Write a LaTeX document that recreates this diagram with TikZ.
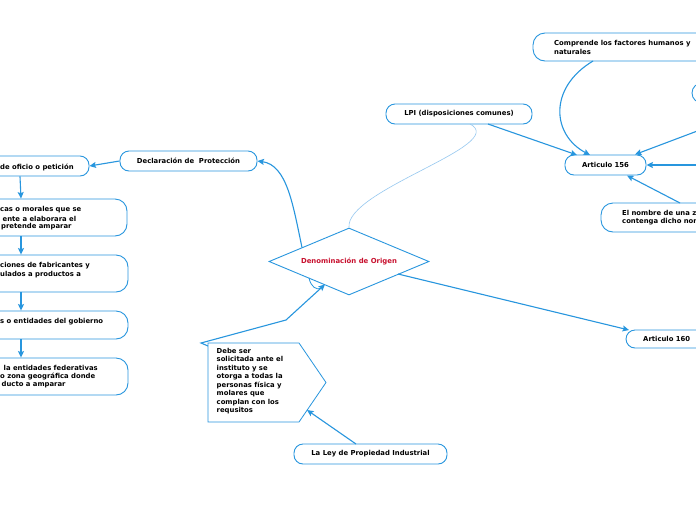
\documentclass[tikz,border=0pt]{standalone}
\usepackage{fontspec}
\setmainfont{DejaVu Sans}
\usetikzlibrary{arrows.meta,shapes.geometric}
\definecolor{lb}{RGB}{40,150,222}
\definecolor{lbl}{RGB}{150,200,240}
\definecolor{dred}{RGB}{200,16,46}
\tikzset{
 box/.style={draw=lb, line width=0.9pt, rounded corners=9pt, fill=white, inner sep=0pt},
 tbox/.style={box, rounded corners=12pt},
 txt/.style={font=\bfseries\fontsize{6.85}{8.6}\selectfont, text=black, inner sep=0pt, align=left},
 conn/.style={draw=lb, line width=1.1pt, -{Stealth[length=6.5pt,width=6pt,inset=1.2pt]}},
 soft/.style={draw=lbl, line width=0.6pt},
}
\begin{document}
\begin{tikzpicture}[x=1pt,y=-1pt]
\path[use as bounding box] (0,0) rectangle (696,520);
\clip (0,0) rectangle (696,520);
\fill[white] (0,0) rectangle (696,520);

% ---- left column
\node[box, minimum width=137pt, minimum height=20pt] (decl) at (188.5,161) {};
\node[txt] at (decl.center) {Declaración de\ \ Protección};
\node[box, minimum width=138pt, minimum height=20pt] (b1) at (20,166) {};
\node[txt, anchor=west] (t1) at (0,167) {de oficio o petición};
\node[tbox, minimum width=212pt, minimum height=37pt] (b2) at (21,217.5) {};
\node[txt, anchor=west] (t2a) at (0,210) {cas o morales que se};
\node[txt, anchor=west] (t2b) at (2.5,218.5) {ente a elaborara el};
\node[txt, anchor=west] (t2c) at (1,227) {pretende amparar};
\node[tbox, minimum width=214pt, minimum height=37pt] (b3) at (21,273.5) {};
\node[txt, anchor=west] (t3a) at (0,266) {ciones de fabricantes y};
\node[txt, anchor=west] (t3b) at (0,274.5) {ulados a productos a};
\node[tbox, minimum width=214pt, minimum height=28pt] (b4) at (21,325) {};
\node[txt, anchor=west] (t4) at (0,322) {s o entidades del gobierno};
\node[tbox, minimum width=214pt, minimum height=37pt] (b5) at (21,376.5) {};
\node[txt, anchor=west] (t5a) at (3.5,368) {la entidades federativas};
\node[txt, anchor=west] (t5b) at (0,376.5) {o zona geográfica donde};
\node[txt, anchor=west] (t5c) at (1.5,385) {ducto a amparar};

% ---- centre
\node[diamond, draw=lb, line width=0.9pt, aspect=2.4, minimum width=160pt, minimum height=67pt, inner sep=0pt, fill=white,
  font=\bfseries\fontsize{6.9}{8}\selectfont, text=dred] (dn) at (349,261.5) {Denominación de Origen};
\coordinate (dA) at (302,247.5);
\coordinate (dBL) at (325,284.4);
\coordinate (dR) at (398,274);

% pentagon
\draw[draw=lb, line width=0.8pt, fill=white] (208,343) -- (299,343) -- (326,382.5) -- (299,422) -- (208,422) -- cycle;
\node[txt, anchor=north west, font=\bfseries\fontsize{6.85}{8.5}\selectfont] (pent) at (216.5,348) {Debe ser\\solicitada ante el\\instituto y se\\otorga a todas la\\personas física y\\molares que\\complan con los\\requsitos};
\coordinate (pTL) at (208,346);
\coordinate (k1) at (201,343);
\coordinate (k2) at (286,320);
\coordinate (pR) at (307,410);

\node[box, minimum width=153pt, minimum height=20pt] (ley) at (370.5,454) {};
\node[txt] at (ley.center) {La Ley de Propiedad Industrial};
\coordinate (leyT) at (356,444);

% ---- right
\node[box, minimum width=146pt, minimum height=20pt] (lpi) at (459,114) {};
\node[txt] at (lpi.center) {LPI (disposiciones comunes)};
\coordinate (lpiB) at (470,124);
\coordinate (lpiA) at (488,124);

\node[box, minimum width=81pt, minimum height=20pt] (a156) at (605.5,165) {};
\node[txt] at (a156.center) {Articulo 156};
\coordinate (a156tl) at (577,155);
\coordinate (a156tr) at (635,154.5);
\coordinate (a156b) at (627,175.5);
\coordinate (a156t) at (590,155);

\node[tbox, minimum width=234pt, minimum height=28pt] (comp) at (650,47) {};
\node[txt, anchor=west] at (554,47.5) {Comprende los factores humanos y\\naturales};
\coordinate (compB) at (593,61);

\node[box, rounded corners=10pt, minimum width=136pt, minimum height=20pt] (rp) at (760,93) {};
\coordinate (rpA) at (700,130);
\coordinate (rhA) at (700,165);

\node[tbox, minimum width=198pt, minimum height=29pt] (nom) at (700,217.5) {};
\node[txt, anchor=west] at (622,217.5) {El nombre de una z\\contenga dicho nom};
\coordinate (nomT) at (680,203);

\node[box, minimum width=148pt, minimum height=18pt] (a160) at (700,339) {};
\node[txt, anchor=west] at (643,339) {Articulo 160};
\coordinate (a160w) at (629,330);

% ---- connectors
\draw[conn] (decl.west) -- (b1.east);
\draw[conn] (b1.south) -- (b2.north);
\draw[conn] (b2.south) -- (b3.north);
\draw[conn] (b3.south) -- (b4.north);
\draw[conn] (b4.south) -- (b5.north);
\draw[conn] (dA) .. controls (293,205) and (287,165) .. (decl.east);
\draw[soft] (lpiB) .. controls (510,145) and (345,190) .. (dn.north);
\draw[conn] (pTL) -- (k1) -- (k2) -- (dBL);
\draw[draw=lb, line width=0.8pt] (309,278) .. controls (311,287) and (316,290) .. (321,288.5);
\draw[conn] (leyT) -- (pR);
\draw[conn] (dR) -- (a160w);
\draw[conn] (lpiA) -- (a156tl);
\draw[conn] (compB) .. controls (548,88) and (552,135) .. (a156t);
\draw[conn] (rpA) -- (a156tr);
\draw[conn, line width=1.6pt] (rhA) -- (a156.east);
\draw[conn] (nomT) -- (a156b);
\end{tikzpicture}
\end{document}
